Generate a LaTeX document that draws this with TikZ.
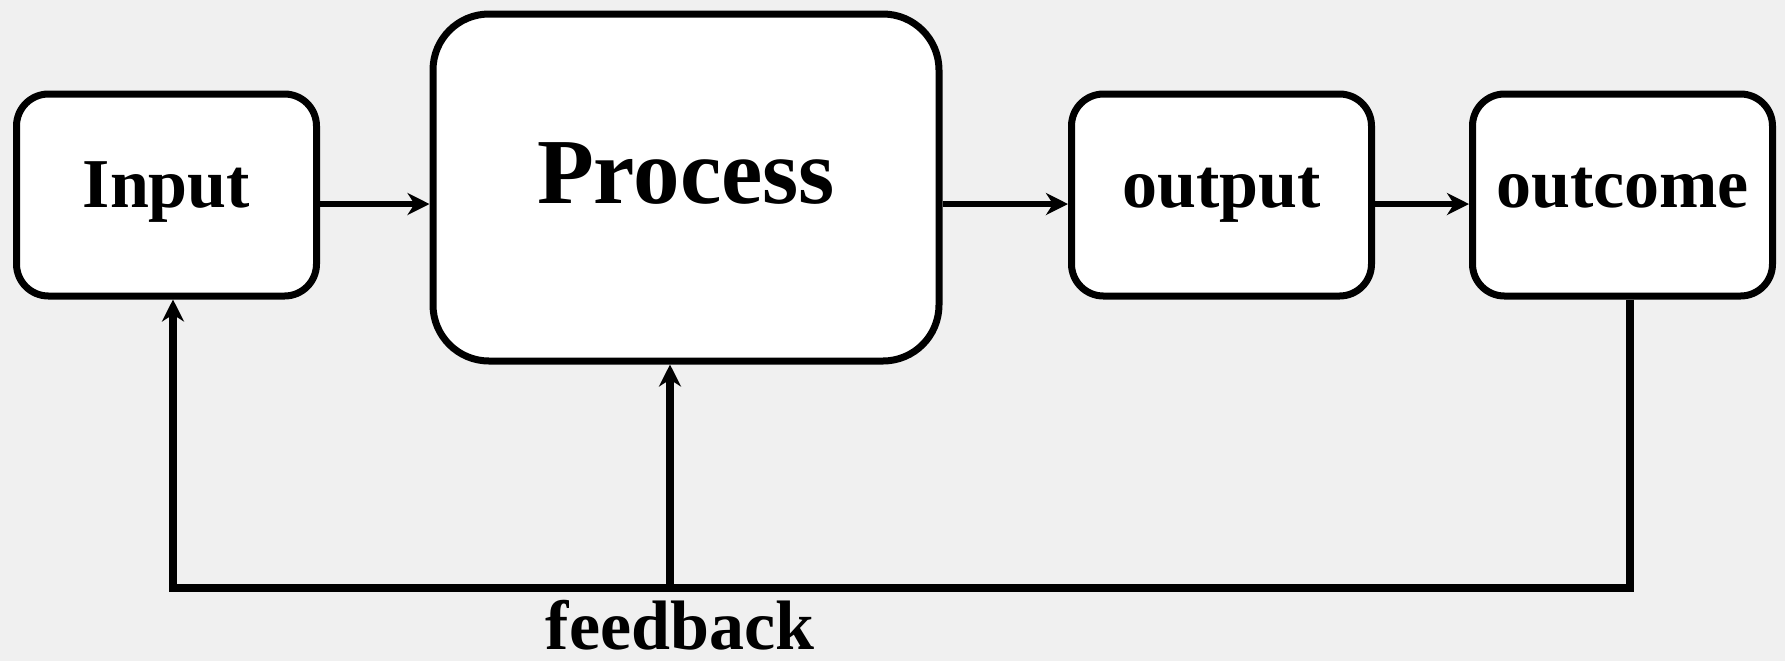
\documentclass[tikz,border=0pt]{standalone}
\usepackage{fontspec}
\setmainfont{Liberation Serif}
\usetikzlibrary{arrows.meta}
\usetikzlibrary{positioning}

\definecolor{bggray}{RGB}{240,240,240}

\tikzset{
  stage/.style = {draw, fill = white, line width = 3.5pt, rounded corners = 16pt,
    minimum width = 150pt, minimum height = 101pt, inner sep = 0pt,
    text height = 24pt, text depth = 12pt,
    font = \fontsize{35pt}{40pt}\selectfont\bfseries},
  flow/.style = {line width = 3pt, -{Stealth[length = 11pt, width = 11pt, inset = 3.5pt]}},
  fbline/.style = {line width = 4pt, line join = miter},
  fbarrow/.style = {fbline, -{Stealth[length = 11pt, width = 11pt, inset = 3.5pt]}}
}

\begin{document}
\begin{tikzpicture}[x = 0.5pt, y = -0.5pt]
\path[use as bounding box, fill = bggray] (0, 0) rectangle (1785, 661);

\node[stage] (in) at (166.5, 195) {Input};
\node[stage, minimum width = 253pt, minimum height = 173.5pt, rounded corners = 28pt,
  text height = 32pt, text depth = 16.5pt,
  font = \fontsize{46.5pt}{50pt}\selectfont\bfseries] (pro) at (686, 187.5) {Process};
\node[stage] (out) at (1221.5, 195) {output};
\node[stage] (oc) at (1622.5, 195) {outcome};

\draw[flow] ([yshift = -4.5pt]in.east) -- ([yshift = -4.5pt]in.east -| pro.west);
\draw[flow] ([yshift = -4.5pt]out.west -| pro.east) -- ([yshift = -4.5pt]out.west);
\draw[flow] ([yshift = -4.5pt]out.east) -- ([yshift = -4.5pt]out.east -| oc.west);

\coordinate (fbL) at (173, 588);
\coordinate (fbM) at (670, 588);
\draw[fbarrow] ([xshift = 3.75pt]oc.south) |- (fbL) -- (fbL |- in.south);
\draw[fbarrow] (fbM) -- (fbM |- pro.south);

\node[font = \fontsize{35pt}{40pt}\selectfont\bfseries, inner sep = 0pt, text depth = 0pt,
  anchor = base] (fb) at (680, 649) {feedback};
\end{tikzpicture}
\end{document}
